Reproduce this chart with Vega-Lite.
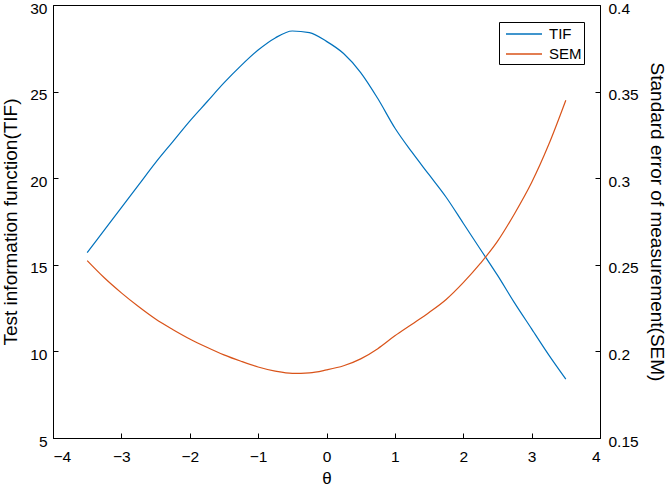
{
  "$schema": "https://vega.github.io/schema/vega-lite/v6.json",
  "autosize": {"type": "none"},
  "width": 547,
  "height": 433,
  "padding": {"left": 53, "top": 5, "right": 69, "bottom": 52},
  "background": "white",
  "config": {
    "view": {"stroke": "black", "strokeWidth": 1},
    "font": "Liberation Sans",
    "axis": {
      "grid": false,
      "domainColor": "black",
      "tickColor": "black",
      "labelColor": "black",
      "titleColor": "black",
      "labelFont": "Liberation Sans",
      "titleFont": "Liberation Sans",
      "labelFontSize": 15.5,
      "titleFontSize": 19,
      "titleFontWeight": "normal",
      "tickSize": -5,
      "labelPadding": 11
    }
  },
  "data": {
    "values": [
      {"theta": -3.5, "TIF": 15.7, "SEM": 0.2524},
      {"theta": -3.25, "TIF": 17.0, "SEM": 0.2425},
      {"theta": -3.0, "TIF": 18.3, "SEM": 0.2338},
      {"theta": -2.75, "TIF": 19.6, "SEM": 0.2259},
      {"theta": -2.5, "TIF": 20.9, "SEM": 0.2187},
      {"theta": -2.25, "TIF": 22.1, "SEM": 0.2127},
      {"theta": -2.0, "TIF": 23.3, "SEM": 0.2072},
      {"theta": -1.75, "TIF": 24.4, "SEM": 0.2024},
      {"theta": -1.5, "TIF": 25.5, "SEM": 0.198},
      {"theta": -1.25, "TIF": 26.5, "SEM": 0.1943},
      {"theta": -1.0, "TIF": 27.4, "SEM": 0.191},
      {"theta": -0.75, "TIF": 28.1, "SEM": 0.1886},
      {"theta": -0.5, "TIF": 28.5, "SEM": 0.1873},
      {"theta": -0.25, "TIF": 28.4, "SEM": 0.1876},
      {"theta": 0.0, "TIF": 27.9, "SEM": 0.1893},
      {"theta": 0.25, "TIF": 27.2, "SEM": 0.1917},
      {"theta": 0.5, "TIF": 26.1, "SEM": 0.1957},
      {"theta": 0.75, "TIF": 24.6, "SEM": 0.2016},
      {"theta": 1.0, "TIF": 22.9, "SEM": 0.209},
      {"theta": 1.25, "TIF": 21.5, "SEM": 0.2157},
      {"theta": 1.5, "TIF": 20.2, "SEM": 0.2225},
      {"theta": 1.75, "TIF": 18.9, "SEM": 0.23},
      {"theta": 2.0, "TIF": 17.4, "SEM": 0.2397},
      {"theta": 2.25, "TIF": 15.9, "SEM": 0.2508},
      {"theta": 2.5, "TIF": 14.4, "SEM": 0.2635},
      {"theta": 2.75, "TIF": 12.8, "SEM": 0.2795},
      {"theta": 3.0, "TIF": 11.3, "SEM": 0.2975},
      {"theta": 3.25, "TIF": 9.8, "SEM": 0.3194},
      {"theta": 3.5, "TIF": 8.4, "SEM": 0.345}
    ]
  },
  "encoding": {
    "x": {
      "field": "theta",
      "type": "quantitative",
      "scale": {"domain": [-4, 4], "nice": false, "zero": false},
      "axis": {"title": "θ", "values": [-4, -3, -2, -1, 0, 1, 2, 3, 4], "titleFontSize": 17, "titlePadding": 6, "labelPadding": 16}
    }
  },
  "layer": [
    {
      "mark": {"type": "line", "strokeWidth": 1.2, "interpolate": "monotone"},
      "encoding": {
        "y": {
          "field": "TIF",
          "type": "quantitative",
          "scale": {"domain": [5, 30], "nice": false, "zero": false},
          "axis": {"title": "Test information function(TIF)", "values": [5, 10, 15, 20, 25, 30], "titlePadding": 9, "labelOffset": 3}
        },
        "color": {
          "datum": "TIF",
          "type": "nominal",
          "scale": {"domain": ["TIF", "SEM"], "range": ["#0072BD", "#D95319"]},
          "legend": {
            "title": null,
            "orient": "none",
            "legendX": 446,
            "legendY": 17,
            "strokeColor": "black",
            "fillColor": "white",
            "padding": 2,
            "symbolType": "M-2,0H2",
            "symbolSize": 324,
            "symbolOffset": 13,
            "symbolStrokeWidth": 1.5,
            "labelOffset": 15,
            "labelFontSize": 15,
            "labelFont": "Liberation Sans",
            "labelColor": "black",
            "rowPadding": 2,
            "cornerRadius": 0
          }
        }
      }
    },
    {
      "mark": {"type": "line", "strokeWidth": 1.2, "interpolate": "monotone"},
      "encoding": {
        "y": {
          "field": "SEM",
          "type": "quantitative",
          "scale": {"domain": [0.15, 0.4], "nice": false, "zero": false},
          "axis": {"orient": "right", "title": "Standard error of measurement(SEM)", "values": [0.15, 0.2, 0.25, 0.3, 0.35, 0.4], "format": "~g", "titlePadding": 8, "labelOffset": 3, "labelPadding": 13}
        },
        "color": {"datum": "SEM", "type": "nominal"}
      }
    }
  ],
  "resolve": {"scale": {"y": "independent"}}
}
